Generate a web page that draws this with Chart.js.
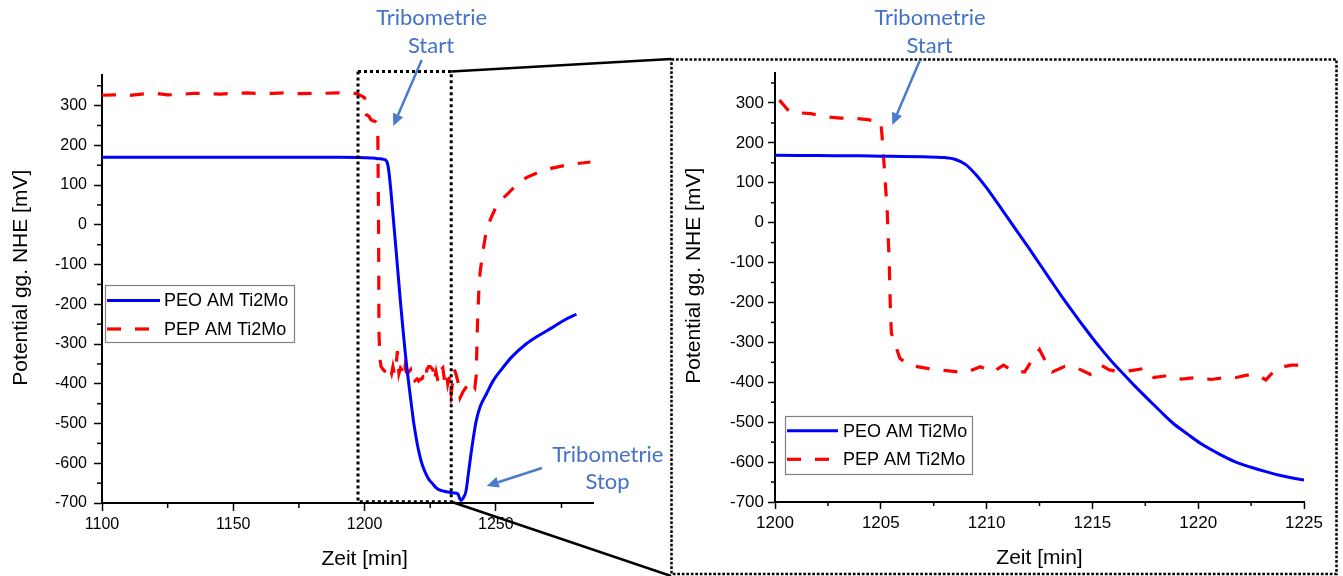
<!DOCTYPE html>
<html>
<head>
<meta charset="utf-8">
<script src="https://cdn.jsdelivr.net/npm/chart.js@4.4.1/dist/chart.umd.min.js"></script>
<style>
  html, body { margin: 0; padding: 0; background: #fff; }
  #wrap { position: relative; width: 1343px; height: 576px; overflow: hidden; background: #fff; }
  #wrap canvas { position: absolute; top: 0; }
  #overview { left: 0; }
  #detail { left: 672px; }
  #marks { left: 0; pointer-events: none; }
</style>
</head>
<body>
<div id="wrap">
  <canvas id="overview" width="620" height="576"></canvas>
  <canvas id="detail" width="671" height="576"></canvas>
  <canvas id="marks" width="1343" height="576"></canvas>
</div>
<script>
// Open-circuit potential vs. time, PEO and PEP coated AM Ti2Mo
const seriesNames = ['PEO AM Ti2Mo', 'PEP AM Ti2Mo'];

// PEO AM Ti2Mo: time [min]
const peoTime = [
  1100, 1125, 1150, 1175, 1190, 1200, 1202, 1204, 1205, 1206, 1207, 1208, 1208.5, 1209, 1209.5,
  1210, 1210.5, 1211, 1211.5, 1212, 1212.5, 1213, 1213.5, 1214, 1214.5, 1215, 1215.5, 1216,
  1216.5, 1217, 1217.7, 1218.2, 1218.8, 1219.5, 1220.1, 1221, 1221.7, 1222.5, 1223.2, 1224,
  1225, 1226, 1227, 1228.5, 1230, 1232.3, 1234, 1235.5, 1236.2, 1236.8, 1237.5, 1238.6,
  1239.5, 1240.5, 1241.5, 1242.5, 1244, 1246.3, 1249, 1252.6, 1256, 1261.5, 1266, 1271.6,
  1276, 1280.7
];
// PEO AM Ti2Mo: potential [mV] vs. NHE
const peoPotential = [
  170, 170, 170, 170, 170, 169, 168, 167.5, 166.5, 166, 165, 163, 159, 146, 120,
  87, 50, 12, -26, -64, -103, -142, -181, -218, -254, -289, -322, -353,
  -381, -409, -446, -472, -502, -530, -553, -580, -598, -613, -624, -635,
  -645, -652, -660, -667, -670, -673, -675, -677, -688, -694, -688, -671,
  -628, -578, -533, -494, -458, -427, -392, -360, -333, -300, -280, -258,
  -240, -225
];

// PEP AM Ti2Mo: time [min]
const pepTime = [
  1100, 1105, 1110, 1115, 1120, 1125, 1130, 1135, 1140, 1145, 1150, 1155, 1160, 1165, 1170,
  1175, 1180, 1185, 1190, 1195, 1197, 1199, 1200, 1200.7, 1201.7, 1202.4, 1203.1, 1203.8,
  1204.4, 1205, 1205.05, 1205.15, 1205.3, 1205.4, 1205.45, 1205.5, 1205.9, 1206.3, 1207.2,
  1208.1, 1209, 1209.7, 1210.3, 1210.8, 1211.3, 1211.8, 1212.2, 1212.5, 1212.8, 1213.1,
  1213.7, 1214.3, 1214.9, 1215.4, 1215.8, 1216.3, 1216.9, 1217.5, 1217.9, 1218.7, 1219.2,
  1220, 1220.6, 1221.3, 1221.8, 1222.3, 1222.8, 1223.2, 1223.7, 1224.4, 1225,
  1226, 1226.5, 1227.2, 1228, 1229, 1229.8, 1230.5, 1231.2, 1231.7, 1232.5, 1233, 1234.2,
  1235, 1235.5, 1236.4, 1237.5, 1239, 1240, 1241, 1242, 1242.5, 1243, 1243.5, 1244, 1245,
  1246, 1247, 1248, 1250, 1252, 1254.5, 1257, 1259, 1262, 1266.5, 1271, 1276.7, 1282, 1286
];
// PEP AM Ti2Mo: potential [mV] vs. NHE
const pepPotential = [
  326, 327, 325, 329, 331, 327, 328, 331, 330, 329, 331, 332, 330, 331, 332,
  330, 331, 331, 332, 331, 330, 324, 320, 277, 273, 265, 262, 261,
  258, 252, 223, 149, 31, -101, -210, -277, -340, -357, -365,
  -371, -376, -361, -374, -357, -374, -374, -340, -318, -349, -374,
  -360, -365, -380, -357, -369, -374, -370, -365, -388, -382, -392,
  -388, -393, -388, -388, -382, -382, -394, -365, -357, -357,
  -364, -393, -370, -395, -365, -360, -395, -375, -401, -380, -423, -364,
  -380, -393, -435, -420, -405, -393, -400, -410, -380, -250, -170, -120, -70,
  -30, -5, 15, 44, 62, 78, 95, 108, 120, 133, 142, 150, 155, 158
];

// y-axis tick values shared by both panels
const potentialTicks = [-700, -600, -500, -400, -300, -200, -100, 0, 100, 200, 300];
const timeTicksOverview = [1100, 1150, 1200, 1250];
const timeTicksDetail = [1200, 1205, 1210, 1215, 1220, 1225];

const FONT = '"Liberation Sans", Arial, sans-serif';
const NOTE_FONT = 'Lato, "Open Sans", sans-serif';
const NOTE_COLOR = '#4472C4';

const toPoints = (xs, ys) => xs.map((x, i) => ({ x, y: ys[i] }));

// Minor tick marks between the labelled ticks
const minorTicks = {
  id: 'minorTicks',
  afterDraw(chart, args, opts) {
    const { ctx } = chart;
    ctx.save();
    ctx.strokeStyle = '#000';
    ctx.lineWidth = 1.5;
    for (const id of ['x', 'y']) {
      const s = chart.scales[id];
      const step = opts[id];
      for (let v = Math.ceil(s.min / step) * step; v <= s.max + 1e-9; v += step) {
        const isMajor = s.ticks.some(t => Math.abs(t.value - v) < 1e-6);
        if (isMajor) continue;
        const p = s.getPixelForValue(v);
        ctx.beginPath();
        if (id === 'x') { ctx.moveTo(p, s.top); ctx.lineTo(p, s.top + opts.length); }
        else { ctx.moveTo(s.right, p); ctx.lineTo(s.right - opts.length, p); }
        ctx.stroke();
      }
    }
    ctx.restore();
  }
};

// Axis captions placed at a data value along each axis
const axisCaptions = {
  id: 'axisCaptions',
  afterDraw(chart, args, opts) {
    const { ctx } = chart;
    ctx.save();
    ctx.fillStyle = '#000';
    ctx.font = opts.size + 'px ' + FONT;
    ctx.textAlign = 'center';
    ctx.textBaseline = 'alphabetic';
    ctx.fillText(opts.xText, chart.scales.x.getPixelForValue(opts.xAt), opts.xBaseline);
    ctx.translate(opts.yBaseline, chart.scales.y.getPixelForValue(opts.yAt));
    ctx.rotate(-Math.PI / 2);
    ctx.fillText(opts.yText, 0, 0);
    ctx.restore();
  }
};

// Boxed legend inside the plot area
const boxLegend = {
  id: 'boxLegend',
  afterDraw(chart, args, opts) {
    const { ctx, chartArea } = chart;
    const x0 = chartArea.left + opts.dx, y0 = chartArea.top + opts.dy;
    ctx.save();
    ctx.fillStyle = '#fff';
    ctx.fillRect(x0, y0, opts.w, opts.h);
    ctx.strokeStyle = '#808080';
    ctx.lineWidth = 1.2;
    ctx.strokeRect(x0 + 0.5, y0 + 0.5, opts.w, opts.h);
    ctx.font = opts.size + 'px ' + FONT;
    ctx.textBaseline = 'middle';
    ctx.textAlign = 'left';
    chart.data.datasets.forEach((ds, i) => {
      const y = y0 + opts.rows[i];
      ctx.strokeStyle = ds.borderColor;
      ctx.lineWidth = ds.borderWidth;
      ctx.setLineDash(ds.borderDash || []);
      ctx.beginPath();
      ctx.moveTo(x0 + opts.lineFrom, y);
      ctx.lineTo(x0 + opts.lineTo, y);
      ctx.stroke();
      ctx.setLineDash([]);
      ctx.fillStyle = '#000';
      ctx.fillText(ds.label, x0 + opts.textX, y + 1);
    });
    ctx.restore();
  }
};

function makePanel(id, p) {
  return new Chart(document.getElementById(id), {
    type: 'line',
    data: {
      datasets: [
        { label: seriesNames[0], data: toPoints(peoTime, peoPotential), borderColor: '#0000ff',
          borderWidth: 3, pointRadius: 0, cubicInterpolationMode: 'monotone', fill: false },
        { label: seriesNames[1], data: toPoints(pepTime, pepPotential), borderColor: '#ff0000',
          borderWidth: 3.2, borderDash: [14, 14], pointRadius: 0, tension: 0, fill: false }
      ]
    },
    options: {
      responsive: false,
      animation: false,
      devicePixelRatio: 1,
      layout: { padding: { left: 0, right: p.padRight, top: p.padTop, bottom: 0 } },
      plugins: {
        legend: { display: false },
        tooltip: { enabled: false },
        minorTicks: { x: p.xMinor, y: 50, length: p.minorLen },
        axisCaptions: p.captions,
        boxLegend: p.legend
      },
      scales: {
        x: {
          type: 'linear', min: p.xMin, max: p.xMax,
          border: { color: '#000', width: 2 },
          grid: { drawOnChartArea: false, color: '#000', tickLength: p.majorLen, tickWidth: 1.5 },
          ticks: {
            color: '#000', font: { family: FONT, size: p.tickSize }, padding: p.xPad,
            maxRotation: 0, autoSkip: false, includeBounds: false,
            callback: v => String(v)
          },
          afterBuildTicks: s => { s.ticks = p.xTicks.map(v => ({ value: v })); },
          afterFit: s => { s.height = p.xHeight; s.paddingLeft = 0; s.paddingRight = 0; }
        },
        y: {
          type: 'linear', min: -700, max: p.yMax,
          border: { color: '#000', width: 2 },
          grid: { drawOnChartArea: false, color: '#000', tickLength: p.majorLen, tickWidth: 1.5 },
          ticks: {
            color: '#000', font: { family: FONT, size: p.tickSize }, padding: p.yPad,
            autoSkip: false, includeBounds: false,
            callback: v => String(v)
          },
          afterBuildTicks: s => { s.ticks = potentialTicks.map(v => ({ value: v })); },
          afterFit: s => { s.width = p.yWidth; s.paddingTop = 0; s.paddingBottom = 0; }
        }
      }
    },
    plugins: [minorTicks, axisCaptions, boxLegend]
  });
}

const overview = makePanel('overview', {
  xMin: 1100, xMax: 1287, xTicks: timeTicksOverview, xMinor: 25, yMax: 377,
  padTop: 75, padRight: 27, xHeight: 73, yWidth: 102,
  tickSize: 16, majorLen: 8, minorLen: 5, xPad: 4, yPad: 7,
  captions: { size: 21, xText: 'Zeit [min]', xAt: 1200, xBaseline: 565,
              yText: 'Potential gg. NHE [mV]', yAt: -133, yBaseline: 27 },
  legend: { dx: 3, dy: 210, w: 189, h: 57, rows: [15.5, 44], lineFrom: 2, lineTo: 55, textX: 59, size: 18 }
});

const detail = makePanel('detail', {
  xMin: 1200, xMax: 1225, xTicks: timeTicksDetail, xMinor: 2.5, yMax: 375,
  padTop: 73, padRight: 39, xHeight: 74, yWidth: 103,
  tickSize: 17, majorLen: 7, minorLen: 4, xPad: 4, yPad: 4,
  captions: { size: 21, xText: 'Zeit [min]', xAt: 1212.5, xBaseline: 564,
              yText: 'Potential gg. NHE [mV]', yAt: -133, yBaseline: 28 },
  legend: { dx: 10, dy: 343, w: 187, h: 58, rows: [14.7, 43.3], lineFrom: 2, lineTo: 53, textX: 58, size: 18 }
});

// Zoom window on the overview (data units) and the frame around the detail panel
const zoomWindow = { from: 1197.5, to: 1233, top: 386, bottom: -697 };

(function drawMarks() {
  const ctx = document.getElementById('marks').getContext('2d');
  const xs = overview.scales.x, ys = overview.scales.y;
  const bx0 = xs.getPixelForValue(zoomWindow.from), bx1 = xs.getPixelForValue(zoomWindow.to);
  const by0 = ys.getPixelForValue(zoomWindow.top), by1 = ys.getPixelForValue(zoomWindow.bottom);

  ctx.strokeStyle = '#000';
  ctx.lineWidth = 3;
  ctx.setLineDash([3, 3]);
  ctx.strokeRect(bx0, by0, bx1 - bx0, by1 - by0);

  // frame of the detail panel
  ctx.lineWidth = 2.5;
  ctx.setLineDash([2.7, 1.8]);
  ctx.strokeRect(671.5, 59.5, 665, 514.5);

  // connectors from the zoom window to the frame
  ctx.setLineDash([]);
  ctx.lineWidth = 2.5;
  ctx.beginPath();
  ctx.moveTo(bx1, by0); ctx.lineTo(671, 59);
  ctx.moveTo(bx1, by1); ctx.lineTo(671, 576);
  ctx.stroke();

  function arrow(x1, y1, x2, y2) {
    const a = Math.atan2(y2 - y1, x2 - x1), L = 12, W = 5.5;
    const bx = x2 - L * Math.cos(a), by = y2 - L * Math.sin(a);
    ctx.strokeStyle = '#4a7ccc';
    ctx.fillStyle = '#4a7ccc';
    ctx.lineWidth = 2.5;
    ctx.beginPath(); ctx.moveTo(x1, y1); ctx.lineTo(bx, by); ctx.stroke();
    ctx.beginPath();
    ctx.moveTo(x2, y2);
    ctx.lineTo(bx + W * Math.sin(a), by - W * Math.cos(a));
    ctx.lineTo(bx - W * Math.sin(a), by + W * Math.cos(a));
    ctx.closePath(); ctx.fill();
  }

  ctx.font = '22px ' + NOTE_FONT;
  ctx.fillStyle = NOTE_COLOR;
  ctx.textAlign = 'center';
  ctx.textBaseline = 'alphabetic';
  ctx.fillText('Tribometrie', 431.7, 25);
  ctx.fillText('Start', 431, 53);
  ctx.fillText('Tribometrie', 930, 25);
  ctx.fillText('Start', 929.5, 53);
  ctx.fillText('Tribometrie', 607.8, 461.5);
  ctx.fillText('Stop', 607.5, 488.5);

  arrow(421.7, 60, 393.3, 126);
  arrow(920, 60, 892.3, 125);
  arrow(542, 468, 486.7, 486);
})();
</script>
</body>
</html>
